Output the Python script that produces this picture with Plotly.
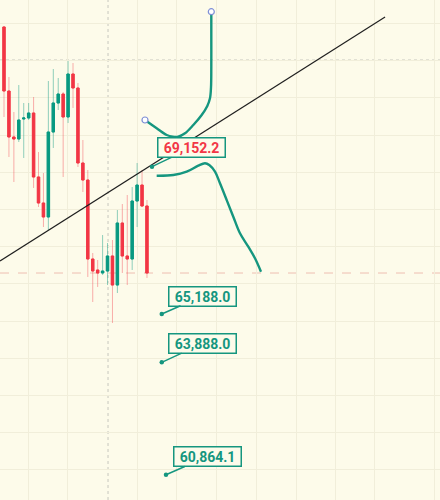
import plotly.graph_objects as go

# ---- candle data (index = bar number) ----
opens  = [72909, 71187, 69950, 69896, 70434, 70461, 70595, 68874, 68174, 67798,
          70084, 70864, 71106, 70488, 71644, 71268, 69250, 68793, 66668, 66372,
          66291, 66345, 66749, 65968, 67636, 66749, 66668, 68228, 68658, 68094]
highs  = [72930, 71564, 70622, 71348, 70864, 70864, 71026, 69546, 68981, 71456,
          71779, 71537, 71160, 71994, 71940, 71402, 69869, 69062, 66829, 66641,
          67313, 67098, 67179, 67986, 68147, 68389, 68605, 69250, 69062, 68255]
lows   = [70488, 69412, 68739, 69815, 69385, 70407, 68578, 68067, 67529, 67448,
          69654, 70676, 68874, 70326, 70730, 69143, 68470, 66184, 65511, 65915,
          66237, 65968, 64946, 65753, 66291, 65968, 66372, 67529, 68067, 66157]
closes = [71187, 69950, 69896, 70407, 70461, 70595, 68874, 68174, 67798, 70084,
          70864, 71106, 70488, 71644, 71268, 69250, 68793, 66668, 66345, 66291,
          66345, 66749, 65968, 67636, 66749, 66668, 68228, 68658, 68094, 66291]
bars = list(range(len(opens)))

# ---- drawings (bar index, price) ----
trend_x = [-0.81, 77.3]
trend_y = [66614, 73178]

curveA_x = [28.60, 30.97, 33.00, 34.22, 35.35, 36.71, 38.40, 40.10, 41.24, 41.78, 41.99, 42.05, 42.05, 42.05]
curveA_y = [70407, 70184, 70003, 69958, 69958, 70049, 70272, 70541, 70784, 70991, 71287, 71841, 72739, 73320]
curveB_x = [30.97, 34.34, 37.06, 39.41, 40.77, 41.64, 42.80, 43.81, 45.17, 46.51, 47.87, 49.55, 50.91, 52.13]
curveB_y = [68909, 68927, 69016, 69178, 69242, 69196, 69016, 68704, 68255, 67806, 67359, 66999, 66687, 66326]

note_x = [30.02, 32.0, 32.0, 32.86]
note_price = [69152.2, 65188.0, 63888.0, 60864.1]
note_text = ["69,152.2", "65,188.0", "63,888.0", "60,864.1"]
note_color = ["#F23645", "#15967F", "#15967F", "#15967F"]

last_price = 66291
cross_x = 21.1
cross_y = 72021
xgrid = [4.87, 12.98, 27.18, 35.09, 43.20, 51.12, 59.23, 67.34, 75.25, 87.42]

RED = "#F23645"
GREEN = "#089981"
TEAL = "#15967F"
BG = "#FDFBEA"

fig = go.Figure()

# wicks (lighter)
fig.add_trace(go.Candlestick(
    x=bars, open=opens, high=highs, low=lows, close=closes,
    increasing=dict(line=dict(color="rgba(8,153,129,0.45)", width=1), fillcolor="rgba(8,153,129,0.45)"),
    decreasing=dict(line=dict(color="rgba(242,54,69,0.40)", width=1), fillcolor="rgba(242,54,69,0.40)"),
    hoverinfo="skip", showlegend=False))
# bodies
body_hi = [max(o, c) for o, c in zip(opens, closes)]
body_lo = [min(o, c) for o, c in zip(opens, closes)]
fig.add_trace(go.Candlestick(
    x=bars, open=opens, high=body_hi, low=body_lo, close=closes,
    increasing=dict(line=dict(color=GREEN, width=1), fillcolor=GREEN),
    decreasing=dict(line=dict(color=RED, width=1), fillcolor=RED),
    hoverinfo="skip", showlegend=False))

# trend line
fig.add_trace(go.Scatter(x=trend_x, y=trend_y, mode="lines",
                         line=dict(color="#1f1f1f", width=1.2), hoverinfo="skip", showlegend=False))

# brush curves
fig.add_trace(go.Scatter(x=curveA_x, y=curveA_y, mode="lines",
                         line=dict(color=TEAL, width=2.4, shape="spline"), hoverinfo="skip", showlegend=False))
fig.add_trace(go.Scatter(x=curveB_x, y=curveB_y, mode="lines",
                         line=dict(color=TEAL, width=2.4, shape="spline"), hoverinfo="skip", showlegend=False))
fig.add_trace(go.Scatter(x=[curveA_x[0], curveA_x[-1]], y=[curveA_y[0], curveA_y[-1]], mode="markers",
                         marker=dict(symbol="circle", size=6, color="white",
                                     line=dict(color="#7F8FD6", width=1.2)),
                         hoverinfo="skip", showlegend=False))

shapes = [
    dict(type="line", xref="paper", yref="y", x0=0, x1=1, y0=last_price, y1=last_price,
         line=dict(color="rgba(230,150,140,0.6)", width=1, dash="dash"), layer="below"),
    dict(type="line", xref="x", yref="paper", x0=cross_x, x1=cross_x, y0=0, y1=1,
         line=dict(color="rgba(150,150,150,0.5)", width=1, dash="dot"), layer="below"),
    dict(type="line", xref="paper", yref="y", x0=0, x1=1, y0=cross_y, y1=cross_y,
         line=dict(color="rgba(150,150,150,0.5)", width=1, dash="dot"), layer="below"),
]

offsets = [(40, -19), (41, -18), (41, -19), (41, -18)]
annotations = []
for xv, pv, txt, col, (ax, ay) in zip(note_x, note_price, note_text, note_color, offsets):
    annotations.append(dict(
        x=xv, y=pv, xref="x", yref="y", text="<b>%s</b>" % txt,
        showarrow=True, ax=ax, ay=ay, arrowhead=6, arrowsize=0.8, arrowwidth=1.4,
        arrowcolor=TEAL, standoff=0, startstandoff=0,
        font=dict(family="Roboto, Arial, sans-serif", size=14, color=col),
        bgcolor=BG, bordercolor=TEAL, borderwidth=1.5, borderpad=1,
        width=64, height=16, align="center"))

fig.update_layout(
    width=440, height=500, margin=dict(l=0, r=0, t=0, b=0),
    paper_bgcolor=BG, plot_bgcolor=BG,
    shapes=shapes, annotations=annotations,
    xaxis=dict(range=[-0.811, 88.44], showticklabels=False, zeroline=False, showline=False,
               rangeslider=dict(visible=False), tickmode="array", tickvals=xgrid,
               showgrid=True, gridcolor="#F1EEDA", gridwidth=1, fixedrange=True),
    yaxis=dict(range=[60185, 73635], showticklabels=False, zeroline=False, showline=False,
               tick0=0, dtick=1000, showgrid=True, gridcolor="#F1EEDA", gridwidth=1, fixedrange=True),
    showlegend=False,
)

fig.write_html("out.html", config={"displayModeBar": False},
               post_script="document.body.style.margin='0';document.body.style.background='%s';" % BG)
